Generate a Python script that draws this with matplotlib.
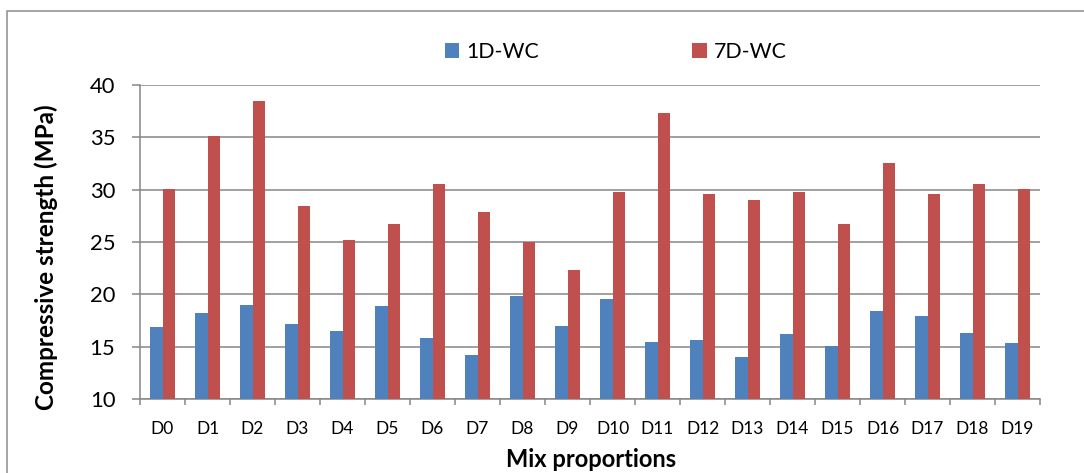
import matplotlib
matplotlib.use("Agg")
import matplotlib.pyplot as plt
from matplotlib.patches import Rectangle
import numpy as np

# Compressive strength of each mix after 1 and 7 days of water curing
mixes = ["D0", "D1", "D2", "D3", "D4", "D5", "D6", "D7", "D8", "D9",
         "D10", "D11", "D12", "D13", "D14", "D15", "D16", "D17", "D18", "D19"]
strength_1d = [16.9, 18.2, 19.0, 17.2, 16.45, 18.9, 15.8, 14.25, 19.85, 16.95,
               19.6, 15.4, 15.6, 14.05, 16.2, 15.05, 18.4, 17.95, 16.3, 15.35]
strength_7d = [30.1, 35.1, 38.5, 28.45, 25.2, 26.7, 30.55, 27.85, 25.0, 22.35,
               29.75, 37.3, 29.6, 29.0, 29.75, 26.75, 32.55, 29.55, 30.55, 30.05]
series_names = ["1D-WC", "7D-WC"]
y_ticks = [10, 15, 20, 25, 30, 35, 40]

BLUE = "#4F81BD"
RED = "#C0504D"
GRID = "#868686"

plt.rcParams["font.family"] = ["Lato", "DejaVu Sans"]

W, H = 1084, 473
fig = plt.figure(figsize=(W / 100, H / 100), dpi=100)
fig.patch.set_facecolor("white")

ax = fig.add_axes([140 / W, 1 - 399 / H, 900 / W, 314 / H])

x = np.arange(len(mixes))
bw = 0.278
ax.bar(x - bw / 2, strength_1d, bw, color=BLUE, label=series_names[0], zorder=3)
ax.bar(x + bw / 2, strength_7d, bw, color=RED, label=series_names[1], zorder=3)

ax.set_xlim(-0.5, len(mixes) - 0.5)
ax.set_ylim(10, 40)
ax.set_yticks(y_ticks)
ax.set_yticklabels([str(v) for v in y_ticks], fontsize=15.8, color="black")
ax.yaxis.grid(True, color=GRID, linewidth=1.1, zorder=0)
ax.set_axisbelow(True)

ax.set_xticks(x)
ax.set_xticklabels(mixes, fontsize=12.5, color="black")
ax.set_xticks(np.arange(-0.5, len(mixes), 1.0), minor=True)
ax.tick_params(axis="x", which="major", length=0, pad=16)
ax.tick_params(axis="x", which="minor", length=4.5, width=1.1, color=GRID, direction="out")
ax.tick_params(axis="y", which="major", length=5.8, width=1.1, color=GRID, direction="out", pad=12)

for side in ("top", "right"):
    ax.spines[side].set_visible(False)
for side in ("left", "bottom"):
    ax.spines[side].set_color(GRID)
    ax.spines[side].set_linewidth(1.1)

fig.text(46 / W, 1 - 257 / H, "Compressive strength (MPa)", rotation=90,
         ha="center", va="center", fontsize=17.5, fontweight="bold")
fig.text(591 / W, 1 - 467 / H, "Mix proportions", ha="center", va="baseline",
         fontsize=17, fontweight="bold")

leg = fig.legend(loc="center", bbox_to_anchor=(616 / W, 1 - 52 / H), ncol=2,
                 frameon=False, fontsize=15.3, handlelength=0.68, handleheight=0.68,
                 handletextpad=0.35, columnspacing=7.2, borderaxespad=0,
                 borderpad=0)

# chart area border, running off the right and bottom edges
fig.patches.append(Rectangle((7 / W, -0.1), 1.2, 1.1 - 11 / H, transform=fig.transFigure,
                             fill=False, edgecolor="#8C8C8C", linewidth=1.1))

fig.savefig("out.png", dpi=100)
